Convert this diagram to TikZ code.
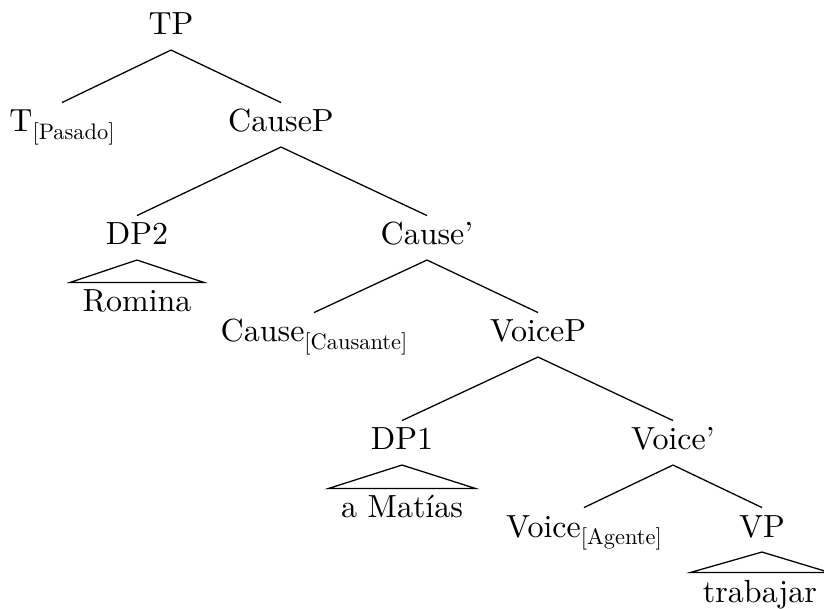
\documentclass[tikz,border=0pt]{standalone}
\usepackage{graphicx}
\newcommand{\featsub}[1]{\raisebox{-2.2pt}{\scalebox{0.7}{#1}}}
\begin{document}
\begin{tikzpicture}[x=0.3125pt,y=-0.3125pt,
  lab/.style={anchor=base, text height=7pt, text depth=2.5pt, inner ysep=2pt, inner xsep=3.8pt},
  branch/.style={draw=black, line width=0.4pt},
  roof/.style={draw=black, line width=0.4pt, line join=miter}]
\useasboundingbox (0,0) rectangle (824,609);
% nodes
\node[lab] (tp) at (171,35) {TP};
\node[lab] (t) at (62,132) {T\featsub{[Pasado]}};
\node[lab] (causep) at (281,132) {CauseP};
\node[lab] (dp2) at (137,245) {DP2};
\node[lab] (causebar) at (427,245) {Cause'};
\node[lab] (romina) at (137,312) {Romina};
\node[lab] (cause) at (314,342) {Cause\featsub{[Causante]}};
\node[lab] (voicep) at (538,342) {VoiceP};
\node[lab] (dp1) at (402,450) {DP1};
\node[lab] (voicebar) at (673,450) {Voice'};
\node[lab] (amatias) at (402,518) {a Matías};
\node[lab] (voice) at (584,537) {Voice\featsub{[Agente]}};
\node[lab] (vp) at (762,537) {VP};
\node[lab] (trabajar) at (760,602) {trabajar};
% branches
\draw[branch] (tp.south) -- (t.north);
\draw[branch] (tp.south) -- (causep.north);
\draw[branch] (causep.south) -- (dp2.north);
\draw[branch] (causep.south) -- (causebar.north);
\draw[branch] (causebar.south) -- (cause.north);
\draw[branch] (causebar.south) -- (voicep.north);
\draw[branch] (voicep.south) -- (dp1.north);
\draw[branch] (voicep.south) -- (voicebar.north);
\draw[branch] (voicebar.south) -- (voice.north);
\draw[branch] (voicebar.south) -- (vp.north);
% roofs
\draw[roof] (dp2.south) -- (romina.north west) -- (romina.north east) -- cycle;
\draw[roof] (dp1.south) -- (amatias.north west) -- (amatias.north east) -- cycle;
\draw[roof] (vp.south) -- (trabajar.north west) -- (trabajar.north east) -- cycle;
\end{tikzpicture}
\end{document}
